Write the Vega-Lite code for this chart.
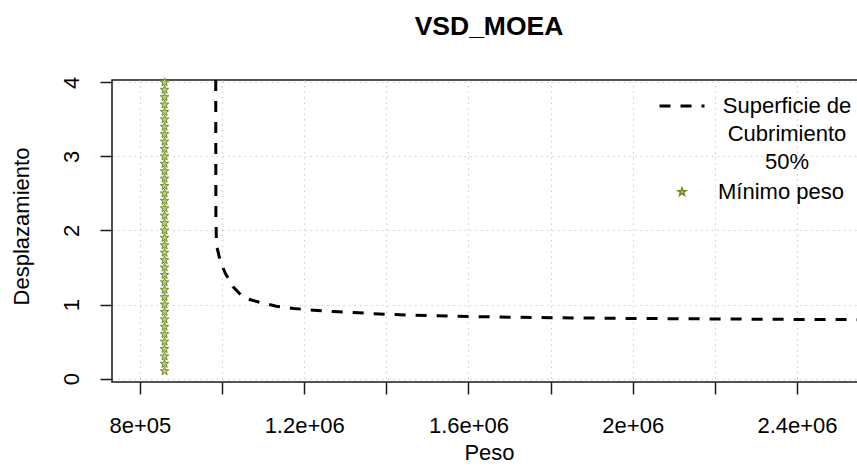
{
  "$schema": "https://vega.github.io/schema/vega-lite/v6.json",
  "width": 754,
  "height": 302,
  "autosize": {"type": "none"},
  "padding": {"left": 112, "top": 80, "right": 0, "bottom": 88},
  "background": "white",
  "title": {
    "text": "VSD_MOEA",
    "fontSize": 26.5,
    "fontWeight": "bold",
    "font": "Liberation Sans",
    "color": "black",
    "anchor": "middle",
    "baseline": "alphabetic",
    "offset": 13
  },
  "config": {
    "font": "Liberation Sans",
    "view": {"stroke": "#1a1a1a", "strokeWidth": 1.5},
    "axis": {
      "domain": false,
      "ticks": true,
      "tickSize": 12,
      "tickColor": "#1a1a1a",
      "tickWidth": 1.5,
      "grid": true,
      "gridColor": "#cfcfcf",
      "gridDash": [1.5, 4],
      "gridWidth": 1.2,
      "labelFont": "Liberation Sans",
      "labelFontSize": 22,
      "labelColor": "black",
      "labelOverlap": false,
      "labelFlush": false,
      "titleFont": "Liberation Sans",
      "titleFontSize": 22,
      "titleFontWeight": "normal",
      "titleColor": "black"
    },
    "legend": {
      "labelFont": "Liberation Sans",
      "labelFontSize": 22,
      "labelColor": "black",
      "labelLimit": 0,
      "padding": 0
    }
  },
  "datasets": {
    "curva": [
      {"peso": 984600, "desp": 4.031, "serie": "Superficie de Cubrimiento 50%"},
      {"peso": 984800, "desp": 3.0, "serie": "Superficie de Cubrimiento 50%"},
      {"peso": 985000, "desp": 2.14, "serie": "Superficie de Cubrimiento 50%"},
      {"peso": 986500, "desp": 1.8, "serie": "Superficie de Cubrimiento 50%"},
      {"peso": 995900, "desp": 1.58, "serie": "Superficie de Cubrimiento 50%"},
      {"peso": 1008000, "desp": 1.42, "serie": "Superficie de Cubrimiento 50%"},
      {"peso": 1026800, "desp": 1.24, "serie": "Superficie de Cubrimiento 50%"},
      {"peso": 1052600, "desp": 1.09, "serie": "Superficie de Cubrimiento 50%"},
      {"peso": 1091600, "desp": 1.03, "serie": "Superficie de Cubrimiento 50%"},
      {"peso": 1132300, "desp": 0.977, "serie": "Superficie de Cubrimiento 50%"},
      {"peso": 1174400, "desp": 0.946, "serie": "Superficie de Cubrimiento 50%"},
      {"peso": 1223200, "desp": 0.923, "serie": "Superficie de Cubrimiento 50%"},
      {"peso": 1271900, "desp": 0.905, "serie": "Superficie de Cubrimiento 50%"},
      {"peso": 1320600, "desp": 0.892, "serie": "Superficie de Cubrimiento 50%"},
      {"peso": 1365400, "desp": 0.878, "serie": "Superficie de Cubrimiento 50%"},
      {"peso": 1410000, "desp": 0.866, "serie": "Superficie de Cubrimiento 50%"},
      {"peso": 1500000, "desp": 0.85, "serie": "Superficie de Cubrimiento 50%"},
      {"peso": 1600000, "desp": 0.838, "serie": "Superficie de Cubrimiento 50%"},
      {"peso": 1700000, "desp": 0.829, "serie": "Superficie de Cubrimiento 50%"},
      {"peso": 1800000, "desp": 0.822, "serie": "Superficie de Cubrimiento 50%"},
      {"peso": 2000000, "desp": 0.812, "serie": "Superficie de Cubrimiento 50%"},
      {"peso": 2200000, "desp": 0.805, "serie": "Superficie de Cubrimiento 50%"},
      {"peso": 2400000, "desp": 0.799, "serie": "Superficie de Cubrimiento 50%"},
      {"peso": 2568000, "desp": 0.795, "serie": "Superficie de Cubrimiento 50%"}
    ],
    "minimo": [
      {"peso": 860000, "desp": 0.1, "serie2": "Mínimo peso"}, {"peso": 860000, "desp": 0.2, "serie2": "Mínimo peso"},
      {"peso": 860000, "desp": 0.3, "serie2": "Mínimo peso"}, {"peso": 860000, "desp": 0.4, "serie2": "Mínimo peso"},
      {"peso": 860000, "desp": 0.5, "serie2": "Mínimo peso"}, {"peso": 860000, "desp": 0.6, "serie2": "Mínimo peso"},
      {"peso": 860000, "desp": 0.7, "serie2": "Mínimo peso"}, {"peso": 860000, "desp": 0.8, "serie2": "Mínimo peso"},
      {"peso": 860000, "desp": 0.9, "serie2": "Mínimo peso"}, {"peso": 860000, "desp": 1.0, "serie2": "Mínimo peso"},
      {"peso": 860000, "desp": 1.1, "serie2": "Mínimo peso"}, {"peso": 860000, "desp": 1.2, "serie2": "Mínimo peso"},
      {"peso": 860000, "desp": 1.3, "serie2": "Mínimo peso"}, {"peso": 860000, "desp": 1.4, "serie2": "Mínimo peso"},
      {"peso": 860000, "desp": 1.5, "serie2": "Mínimo peso"}, {"peso": 860000, "desp": 1.6, "serie2": "Mínimo peso"},
      {"peso": 860000, "desp": 1.7, "serie2": "Mínimo peso"}, {"peso": 860000, "desp": 1.8, "serie2": "Mínimo peso"},
      {"peso": 860000, "desp": 1.9, "serie2": "Mínimo peso"}, {"peso": 860000, "desp": 2.0, "serie2": "Mínimo peso"},
      {"peso": 860000, "desp": 2.1, "serie2": "Mínimo peso"}, {"peso": 860000, "desp": 2.2, "serie2": "Mínimo peso"},
      {"peso": 860000, "desp": 2.3, "serie2": "Mínimo peso"}, {"peso": 860000, "desp": 2.4, "serie2": "Mínimo peso"},
      {"peso": 860000, "desp": 2.5, "serie2": "Mínimo peso"}, {"peso": 860000, "desp": 2.6, "serie2": "Mínimo peso"},
      {"peso": 860000, "desp": 2.7, "serie2": "Mínimo peso"}, {"peso": 860000, "desp": 2.8, "serie2": "Mínimo peso"},
      {"peso": 860000, "desp": 2.9, "serie2": "Mínimo peso"}, {"peso": 860000, "desp": 3.0, "serie2": "Mínimo peso"},
      {"peso": 860000, "desp": 3.1, "serie2": "Mínimo peso"}, {"peso": 860000, "desp": 3.2, "serie2": "Mínimo peso"},
      {"peso": 860000, "desp": 3.3, "serie2": "Mínimo peso"}, {"peso": 860000, "desp": 3.4, "serie2": "Mínimo peso"},
      {"peso": 860000, "desp": 3.5, "serie2": "Mínimo peso"}, {"peso": 860000, "desp": 3.6, "serie2": "Mínimo peso"},
      {"peso": 860000, "desp": 3.7, "serie2": "Mínimo peso"}, {"peso": 860000, "desp": 3.8, "serie2": "Mínimo peso"},
      {"peso": 860000, "desp": 3.9, "serie2": "Mínimo peso"}, {"peso": 860000, "desp": 4.0, "serie2": "Mínimo peso"}
    ]
  },
  "encoding": {
    "x": {
      "field": "peso",
      "type": "quantitative",
      "scale": {"domain": [732000, 2568000], "nice": false, "zero": false},
      "axis": {
        "values": [800000, 1000000, 1200000, 1400000, 1600000, 1800000, 2000000, 2200000, 2400000],
        "labelExpr": "datum.value == 800000 ? '8e+05' : datum.value == 1200000 ? '1.2e+06' : datum.value == 1600000 ? '1.6e+06' : datum.value == 2000000 ? '2e+06' : datum.value == 2400000 ? '2.4e+06' : ''",
        "labelBaseline": "top",
        "labelPadding": 21,
        "title": "Peso",
        "titlePadding": 6
      }
    },
    "y": {
      "field": "desp",
      "type": "quantitative",
      "scale": {"domain": [-0.046, 4.031], "nice": false, "zero": false},
      "axis": {
        "values": [0, 1, 2, 3, 4],
        "format": "d",
        "labelAngle": 270,
        "labelAlign": "center",
        "labelBaseline": "alphabetic",
        "labelPadding": 22,
        "title": "Desplazamiento",
        "titleAngle": 270,
        "titleBaseline": "alphabetic",
        "titleAlign": "center",
        "titleX": -84,
        "titleY": 146
      }
    }
  },
  "layer": [
    {
      "data": {"name": "curva"},
      "mark": {"type": "line", "color": "black", "strokeWidth": 3, "strokeCap": "butt"},
      "encoding": {
        "strokeDash": {
          "field": "serie",
          "type": "nominal",
          "scale": {"range": [[11, 10]]},
          "legend": {
            "orient": "none",
            "legendX": 546,
            "legendY": 2,
            "title": null,
            "symbolType": "stroke",
            "symbolSize": 2025,
            "symbolStrokeWidth": 3,
            "symbolStrokeColor": "black",
            "labelAlign": "center",
            "labelOffset": 81,
            "labelExpr": "['Superficie de', 'Cubrimiento', '50%']",
            "encode": {"labels": {"update": {"lineHeight": {"value": 28}}}}
          }
        }
      }
    },
    {
      "data": {"name": "minimo"},
      "mark": {"type": "point", "filled": true, "fill": "#bccb8c", "stroke": "#6B8E23", "strokeWidth": 1, "size": 80, "opacity": 1},
      "encoding": {
        "shape": {
          "field": "serie2",
          "type": "nominal",
          "scale": {"range": ["M0,-1L0.235,-0.324L0.951,-0.309L0.38,0.124L0.588,0.809L0,0.4L-0.588,0.809L-0.38,0.124L-0.951,-0.309L-0.235,-0.324Z"]},
          "legend": {
            "orient": "none",
            "legendX": 559,
            "legendY": 101,
            "title": null,
            "symbolSize": 70,
            "labelAlign": "center",
            "labelOffset": 88,
            "encode": {"symbols": {"update": {"fill": {"value": "#7a9a3a"}, "stroke": {"value": "#6B8E23"}, "opacity": {"value": 1}}}}
          }
        }
      }
    }
  ]
}
